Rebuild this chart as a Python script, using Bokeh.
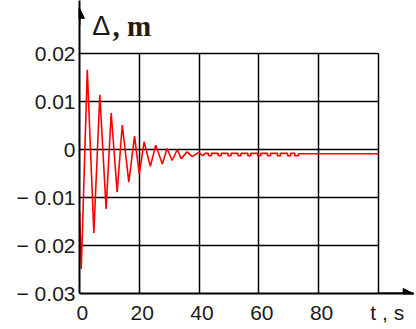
from bokeh.plotting import figure
from bokeh.models import FixedTicker, Label, Arrow, NormalHead, Range1d
from bokeh.embed import file_html
from bokeh.resources import INLINE

# ---- data ----
t_s = [0.0, 0.6, 2.6, 4.8, 6.8, 8.9, 10.6, 12.6, 14.3, 16.5, 18.4, 20.0, 21.6, 23.7,
       25.5, 27.7, 29.3, 31.0, 32.7, 34.0, 36.0, 37.7, 39.9, 41.2, 42.0,
       43.1, 43.1, 44.1, 44.1, 46.4, 46.4, 47.4, 47.4, 49.7, 49.7, 50.7, 50.7,
       53.0, 53.0, 54.0, 54.0, 56.3, 56.3, 57.3, 57.3, 59.6, 59.6, 60.6, 60.6,
       62.9, 62.9, 63.9, 63.9, 66.2, 66.2, 67.2, 67.2, 69.6, 69.6, 70.6, 70.6,
       72.0, 72.0, 73.2, 73.2, 100.0]
d_m = [-0.0130, -0.0249, 0.0166, -0.0174, 0.0114, -0.0124, 0.0076, -0.0089, 0.0051, -0.0068,
       0.0028, -0.0051, 0.0016, -0.0035, 0.0009, -0.0030, 0.0002, -0.0023, 0.0000, -0.0019,
       -0.0005, -0.0015, -0.0006, -0.0013, -0.0008,
       -0.0008, -0.0013, -0.0013, -0.0008, -0.0008, -0.0013, -0.0013, -0.0008,
       -0.0008, -0.0013, -0.0013, -0.0008, -0.0008, -0.0013, -0.0013, -0.0008,
       -0.0008, -0.0013, -0.0013, -0.0008, -0.0008, -0.0013, -0.0013, -0.0008,
       -0.0008, -0.0013, -0.0013, -0.0008, -0.0008, -0.0013, -0.0013, -0.0008,
       -0.0008, -0.0013, -0.0013, -0.0008, -0.0008, -0.0013, -0.0013, -0.0009, -0.0009]

x_ticks = [0, 20, 40, 60, 80, 100]
x_labels = ["0", "20", "40", "60", "80", "t , s"]
x_grid = [20, 40, 60, 80, 100]
y_ticks = [-0.03, -0.02, -0.01, 0.0, 0.01, 0.02]
y_labels = ["\u2212 0.03", "\u2212 0.02", "\u2212 0.01", "0", "0.01", "0.02"]
y_grid = [-0.02, -0.01, 0.0, 0.01, 0.02]

p = figure(width=414, height=327,
           x_range=Range1d(0, 112.04), y_range=Range1d(-0.03, 0.03104),
           output_backend="svg", toolbar_location=None,
           min_border_left=79, min_border_right=0, min_border_top=0, min_border_bottom=34)
p.outline_line_color = None
p.background_fill_color = "white"

# axes
for ax in (p.xaxis[0], p.yaxis[0]):
    ax.axis_line_color = "black"
    ax.axis_line_width = 2
    ax.major_tick_line_color = None
    ax.minor_tick_line_color = None
    ax.major_tick_in = 0
    ax.major_tick_out = 0
    ax.major_label_text_font = "Liberation Sans"
    ax.major_label_text_font_size = "21px"
    ax.major_label_text_color = "#1a1a1a"

p.xaxis.ticker = FixedTicker(ticks=x_ticks)
p.xaxis.major_label_overrides = {v: ("\u00a0\u00a0\u00a0" if v == 100 else "\u00a0") + s
                                 for v, s in zip(x_ticks, x_labels)}
p.xaxis.major_label_standoff = 7
p.yaxis.ticker = FixedTicker(ticks=y_ticks)
p.yaxis.major_label_overrides = dict(zip(y_ticks, y_labels))
p.yaxis.major_label_standoff = 4

# grid limited to the data box
p.xgrid.ticker = FixedTicker(ticks=x_grid)
p.xgrid.cross_bounds = (y_ticks[0], y_ticks[-1])
p.ygrid.ticker = FixedTicker(ticks=y_grid)
p.ygrid.cross_bounds = (x_ticks[0], x_ticks[-1])
for g in (p.xgrid[0], p.ygrid[0]):
    g.grid_line_color = "black"
    g.grid_line_width = 1.5
    g.grid_line_alpha = 1.0

# signal
p.line(t_s, d_m, line_color="red", line_width=1.6)

# axis arrows
p.add_layout(Arrow(end=NormalHead(size=10, fill_color="black", line_color="black"),
                   x_start=0, y_start=0.026, x_end=0, y_end=0.0294,
                   line_color="black", line_width=2))
p.add_layout(Arrow(end=NormalHead(size=10, fill_color="black", line_color="black"),
                   x_start=100, y_start=-0.03, x_end=111.6, y_end=-0.03,
                   line_color="black", line_width=2))

# y axis title
p.add_layout(Label(x=4.3, y=0.0257, text="\u0394", text_font="Liberation Sans",
                   text_font_size="27px", text_color="#1a1a1a", text_baseline="alphabetic"))
p.add_layout(Label(x=11.0, y=0.0257, text=", m", text_font="Liberation Serif",
                   text_font_style="bold", text_font_size="29px", text_color="#2a1a0a",
                   text_baseline="alphabetic"))

open("out.html", "w").write(file_html(p, INLINE))
